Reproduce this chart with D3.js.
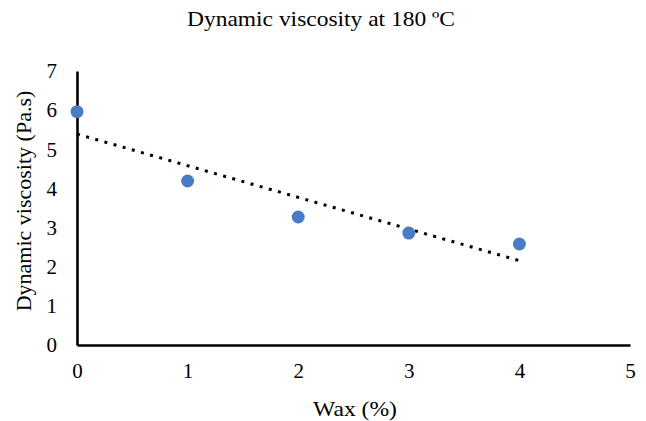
<!DOCTYPE html>
<html>
<head>
<meta charset="utf-8">
<script src="https://cdn.jsdelivr.net/npm/d3@7"></script>
<style>
  html, body { margin: 0; padding: 0; background: #fff; }
  svg { display: block; }
  svg text { font-family: 'Liberation Serif', 'Times New Roman', Times, serif !important; fill: #000; }
</style>
</head>
<body>
<svg id="chart" width="646" height="421"></svg>
<script>
const title = "Dynamic viscosity at 180 ºC";
const xTitle = "Wax (%)";
const yTitle = "Dynamic viscosity (Pa.s)";
const wax = [0, 1, 2, 3, 4];
const viscosity = [5.96, 4.19, 3.27, 2.86, 2.58];
const xTicks = [0, 1, 2, 3, 4, 5];
const yTicks = [0, 1, 2, 3, 4, 5, 6, 7];

const serif = "'Liberation Serif', 'Times New Roman', Times, serif";
const svg = d3.select("#chart");
const x = d3.scaleLinear().domain([0, 5]).range([77, 630]);
const y = d3.scaleLinear().domain([0, 7]).range([345, 71]);

// axes
const xAxis = svg.append("g").attr("transform", `translate(0,${y(0)})`)
  .call(d3.axisBottom(x).tickValues(xTicks).tickSize(0).tickPadding(18).tickFormat(d3.format("d")))
  .attr("font-family", serif).attr("font-size", 21);
xAxis.select(".domain").attr("stroke", "#000").attr("stroke-width", 2.6);
xAxis.selectAll("text").style("font-family", serif).style("font-size", "21px");

const yAxis = svg.append("g").attr("transform", `translate(${x(0)},0)`)
  .call(d3.axisLeft(y).tickValues(yTicks).tickSize(0).tickPadding(20).tickFormat(d3.format("d")))
  .attr("font-family", serif).attr("font-size", 21);
yAxis.select(".domain").attr("stroke", "#000").attr("stroke-width", 2.6);
yAxis.selectAll("text").style("font-family", serif).style("font-size", "21px");

// trendline (least squares)
const mx = d3.mean(wax), my = d3.mean(viscosity);
const slope = d3.sum(wax, (d, i) => (d - mx) * (viscosity[i] - my)) / d3.sum(wax, d => (d - mx) ** 2);
const intercept = my - slope * mx;
const trendX = [d3.min(wax), d3.max(wax)];
svg.append("path")
  .datum(trendX)
  .attr("d", d3.line().x(d => x(d)).y(d => y(intercept + slope * d)))
  .attr("fill", "none")
  .attr("stroke", "#000")
  .attr("stroke-width", 3)
  .attr("stroke-dasharray", "3 6.5");

// points
svg.append("g").selectAll("circle")
  .data(wax)
  .join("circle")
  .attr("cx", d => x(d))
  .attr("cy", (d, i) => y(viscosity[i]))
  .attr("r", 6.5)
  .attr("fill", "#4A7CC6");

// titles
svg.append("text")
  .attr("x", 321).attr("y", 26)
  .attr("text-anchor", "middle")
  .style("font-size", "21px")
  .attr("textLength", 268).attr("lengthAdjust", "spacingAndGlyphs")
  .text(title);

svg.append("text")
  .attr("x", 355).attr("y", 416)
  .attr("text-anchor", "middle")
  .style("font-size", "21px")
  .attr("textLength", 84).attr("lengthAdjust", "spacingAndGlyphs")
  .text(xTitle);

svg.append("text")
  .attr("transform", "translate(31,201) rotate(-90)")
  .attr("text-anchor", "middle")
  .style("font-size", "22px")
  .text(yTitle);
</script>
</body>
</html>
